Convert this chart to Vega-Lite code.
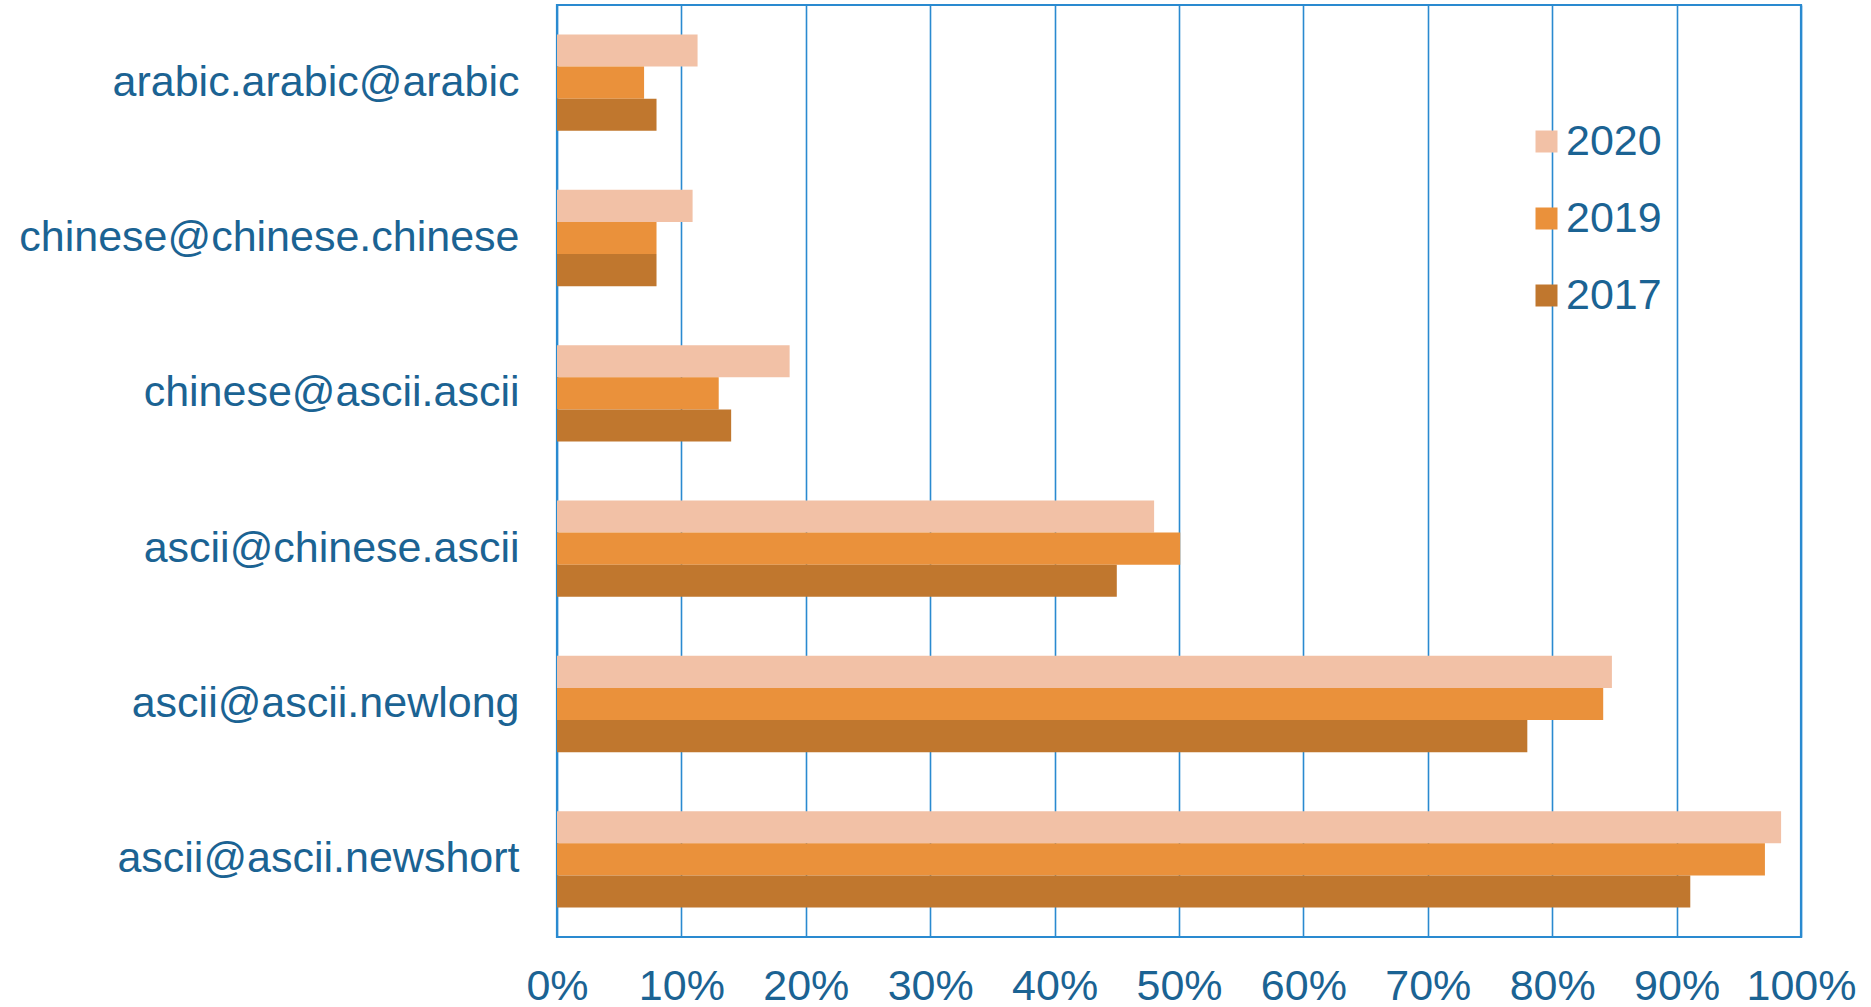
{
  "$schema": "https://vega.github.io/schema/vega-lite/v6.json",
  "autosize": {"type": "none"},
  "width": 1244,
  "height": 932,
  "padding": {"left": 557, "top": 5, "right": 70, "bottom": 70},
  "background": "white",
  "data": {
    "values": [
      {"address": "arabic.arabic@arabic", "year": "2020", "rate": 0.113},
      {"address": "arabic.arabic@arabic", "year": "2019", "rate": 0.070},
      {"address": "arabic.arabic@arabic", "year": "2017", "rate": 0.080},
      {"address": "chinese@chinese.chinese", "year": "2020", "rate": 0.109},
      {"address": "chinese@chinese.chinese", "year": "2019", "rate": 0.080},
      {"address": "chinese@chinese.chinese", "year": "2017", "rate": 0.080},
      {"address": "chinese@ascii.ascii", "year": "2020", "rate": 0.187},
      {"address": "chinese@ascii.ascii", "year": "2019", "rate": 0.130},
      {"address": "chinese@ascii.ascii", "year": "2017", "rate": 0.140},
      {"address": "ascii@chinese.ascii", "year": "2020", "rate": 0.480},
      {"address": "ascii@chinese.ascii", "year": "2019", "rate": 0.501},
      {"address": "ascii@chinese.ascii", "year": "2017", "rate": 0.450},
      {"address": "ascii@ascii.newlong", "year": "2020", "rate": 0.848},
      {"address": "ascii@ascii.newlong", "year": "2019", "rate": 0.841},
      {"address": "ascii@ascii.newlong", "year": "2017", "rate": 0.780},
      {"address": "ascii@ascii.newshort", "year": "2020", "rate": 0.984},
      {"address": "ascii@ascii.newshort", "year": "2019", "rate": 0.971},
      {"address": "ascii@ascii.newshort", "year": "2017", "rate": 0.911}
    ]
  },
  "mark": {"type": "bar"},
  "encoding": {
    "y": {
      "field": "address",
      "type": "nominal",
      "sort": ["arabic.arabic@arabic", "chinese@chinese.chinese", "chinese@ascii.ascii", "ascii@chinese.ascii", "ascii@ascii.newlong", "ascii@ascii.newshort"],
      "scale": {"paddingInner": 0.38, "paddingOuter": 0.19},
      "axis": {
        "title": null,
        "ticks": false,
        "domain": false,
        "grid": false,
        "labelPadding": 38,
        "labelFont": "Liberation Sans",
        "labelFontSize": 43,
        "labelColor": "#1B6393",
        "labelLimit": 0,
        "labelExpr": "datum.value == 'chinese@chinese.chinese' || datum.value == 'ascii@ascii.newlong' ? datum.value + '\u00a0' : datum.value"
      }
    },
    "yOffset": {
      "field": "year",
      "type": "nominal",
      "sort": ["2020", "2019", "2017"],
      "scale": {"paddingInner": 0, "paddingOuter": 0}
    },
    "x": {
      "field": "rate",
      "type": "quantitative",
      "scale": {"domain": [0, 1], "nice": false},
      "axis": {
        "title": null,
        "values": [0, 0.1, 0.2, 0.3, 0.4, 0.5, 0.6, 0.7, 0.8, 0.9, 1],
        "format": ".0%",
        "ticks": false,
        "domain": false,
        "grid": true,
        "gridColor": "#2A8AD0",
        "gridWidth": 1.6,
        "gridOpacity": 1,
        "labelPadding": 28,
        "labelFont": "Liberation Sans",
        "labelFontSize": 43,
        "labelColor": "#1B6393",
        "labelFlush": false,
        "labelOverlap": false
      }
    },
    "color": {
      "field": "year",
      "type": "nominal",
      "sort": ["2020", "2019", "2017"],
      "scale": {"domain": ["2020", "2019", "2017"], "range": ["#F2C1A6", "#EA913B", "#C0772E"]},
      "legend": {
        "title": null,
        "orient": "none",
        "legendX": 968,
        "legendY": 115,
        "padding": 0,
        "symbolType": "square",
        "symbolSize": 484,
        "symbolStrokeWidth": 0,
        "symbolOpacity": 1,
        "labelFont": "Liberation Sans",
        "labelFontSize": 43,
        "labelColor": "#1B6393",
        "labelOffset": -2,
        "rowPadding": 33
      }
    }
  },
  "config": {
    "view": {"stroke": "#2A8AD0", "strokeWidth": 2.2}
  }
}
